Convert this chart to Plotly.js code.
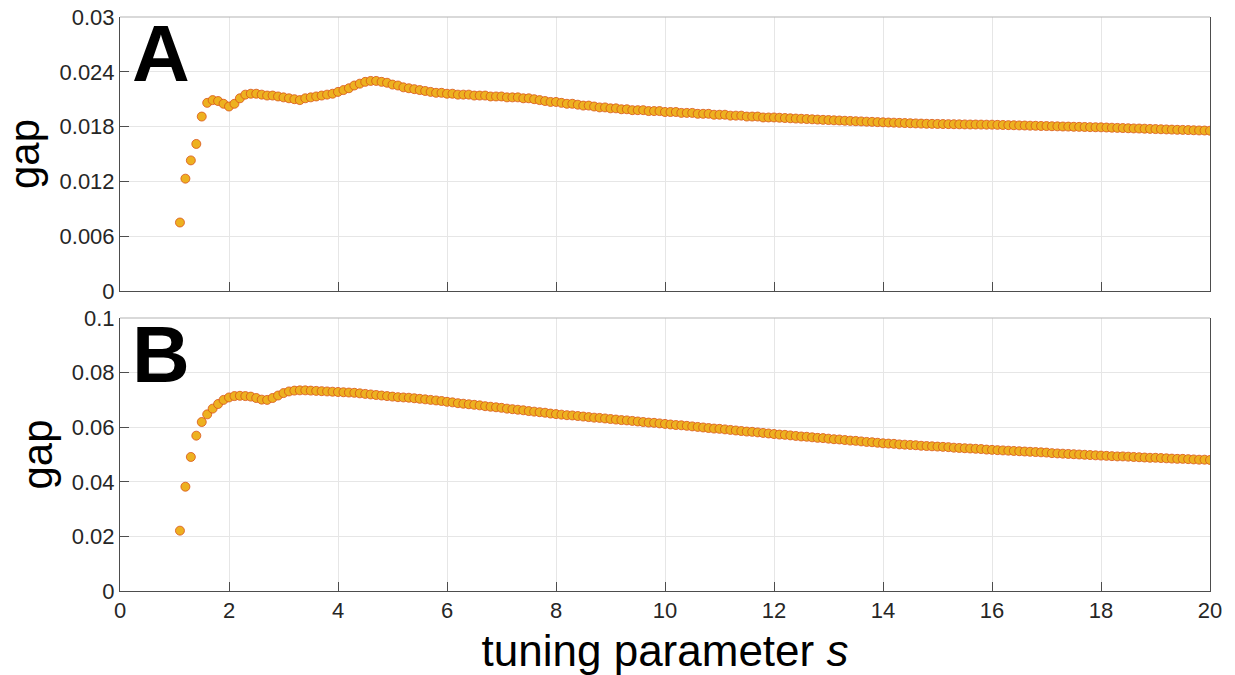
<!DOCTYPE html>
<html>
<head>
<meta charset="utf-8">
<script src="https://cdn.plot.ly/plotly-3.0.1.min.js"></script>
<style>html,body{margin:0;padding:0;background:#fff;}#chart{width:1235px;height:675px;}</style>
</head>
<body>
<div id="chart"></div>
<script>
// tuning parameter s: sampled from 1.1 to 20.0 in steps of 0.1
const sStart = 1.1, sStep = 0.1, sCount = 190;
const sValues = [];
for (let i = 0; i < sCount; i++) sValues.push(Math.round((sStart + i * sStep) * 10) / 10);

// Panel A gap values
const gapA = [
  0.0075, 0.0123, 0.0143, 0.0161, 0.0191, 0.0206, 0.0209, 0.0208, 0.0205, 0.0202,
  0.0205, 0.0211, 0.0215, 0.0216, 0.0216, 0.0215, 0.0214, 0.0214, 0.0213, 0.0212,
  0.0211, 0.0210, 0.0209, 0.0211, 0.0212, 0.0213, 0.0214, 0.0215, 0.0216, 0.0218,
  0.0220, 0.0222, 0.0225, 0.0227, 0.0229, 0.0230, 0.0230, 0.0229, 0.0228, 0.0226,
  0.0225, 0.0223, 0.0222, 0.0221, 0.0220, 0.0219, 0.0218, 0.0217, 0.0217, 0.0216,
  0.0216, 0.0215, 0.0215, 0.0215, 0.0214, 0.0214, 0.0214, 0.0213, 0.0213, 0.0213,
  0.0212, 0.0212, 0.0212, 0.0211, 0.0211, 0.0210, 0.0209, 0.0208, 0.0207, 0.0207,
  0.0206, 0.0205, 0.0205, 0.0204, 0.0203, 0.0203, 0.0202, 0.0201, 0.0201, 0.0200,
  0.0200, 0.0199, 0.0199, 0.0198, 0.0198, 0.0198, 0.0197, 0.0197, 0.0197, 0.0196,
  0.0196, 0.0196, 0.0195, 0.0195, 0.0195, 0.0194, 0.0194, 0.0194, 0.0193, 0.0193,
  0.0193, 0.0192, 0.0192, 0.0192, 0.0191, 0.0191, 0.0191, 0.0190, 0.0190, 0.0190,
  0.01897, 0.01894, 0.01891, 0.01888, 0.01886, 0.01883, 0.01880, 0.01877, 0.01874, 0.01872,
  0.01869, 0.01867, 0.01864, 0.01862, 0.01859, 0.01857, 0.01854, 0.01852, 0.01849, 0.01847,
  0.01845, 0.01843, 0.01841, 0.01839, 0.01837, 0.01835, 0.01833, 0.01831, 0.01830, 0.01829,
  0.01828, 0.01827, 0.01826, 0.01825, 0.01824, 0.01823, 0.01823, 0.01822, 0.01821, 0.01821,
  0.01819, 0.01818, 0.01816, 0.01815, 0.01813, 0.01812, 0.01810, 0.01809, 0.01807, 0.01806,
  0.01804, 0.01803, 0.01801, 0.01800, 0.01798, 0.01797, 0.01796, 0.01794, 0.01793, 0.01792,
  0.01790, 0.01788, 0.01786, 0.01784, 0.01782, 0.01780, 0.01779, 0.01777, 0.01775, 0.01773,
  0.01771, 0.01769, 0.01767, 0.01765, 0.01764, 0.01762, 0.01760, 0.01758, 0.01757, 0.01755
];

// Panel B gap values
const gapB = [
  0.0221, 0.0382, 0.0491, 0.0569, 0.0619, 0.0647, 0.0668, 0.0685, 0.0700, 0.0709,
  0.0714, 0.0715, 0.0714, 0.0712, 0.0707, 0.0701, 0.0700, 0.0707, 0.0716, 0.0725,
  0.0731, 0.0734, 0.0735, 0.0735, 0.0734, 0.0733, 0.0732, 0.0731, 0.0730, 0.0729,
  0.0728, 0.0727, 0.0726, 0.0724, 0.0722, 0.0720, 0.0718, 0.0716, 0.0714, 0.0712,
  0.0710, 0.0709, 0.0708, 0.0706, 0.0704, 0.0702, 0.0700, 0.0698, 0.0696, 0.0693,
  0.0691, 0.0688, 0.0686, 0.0684, 0.0682, 0.0680, 0.0677, 0.0675, 0.0673, 0.0671,
  0.0668, 0.0666, 0.0664, 0.0662, 0.0659, 0.0657, 0.0655, 0.0653, 0.0650, 0.0648,
  0.0646, 0.0644, 0.0643, 0.0641, 0.0639, 0.0637, 0.0635, 0.0634, 0.0632, 0.0630,
  0.0628, 0.0626, 0.0625, 0.0623, 0.0621, 0.0619, 0.0617, 0.0616, 0.0614, 0.0612,
  0.0610, 0.0608, 0.0607, 0.0605, 0.0603, 0.0601, 0.0599, 0.0597, 0.0595, 0.0594,
  0.0592, 0.0590, 0.0588, 0.0586, 0.0584, 0.0583, 0.0581, 0.0579, 0.0577, 0.0575,
  0.0573, 0.0572, 0.0570, 0.0568, 0.0566, 0.0565, 0.0563, 0.0561, 0.0560, 0.0558,
  0.0556, 0.0555, 0.0553, 0.0551, 0.0550, 0.0548, 0.0546, 0.0545, 0.0543, 0.0541,
  0.0540, 0.0539, 0.0537, 0.0536, 0.0535, 0.0534, 0.0532, 0.0531, 0.0530, 0.0529,
  0.0528, 0.0527, 0.0525, 0.0524, 0.0523, 0.0522, 0.0521, 0.0520, 0.0518, 0.0517,
  0.0516, 0.0515, 0.0514, 0.0513, 0.0512, 0.0511, 0.0510, 0.0509, 0.0508, 0.0507,
  0.0505, 0.0504, 0.0503, 0.0502, 0.0501, 0.0500, 0.0499, 0.0498, 0.0497, 0.0496,
  0.0495, 0.0494, 0.0493, 0.0493, 0.0492, 0.0491, 0.0490, 0.0489, 0.0488, 0.0488,
  0.0487, 0.0486, 0.0485, 0.0484, 0.0484, 0.0483, 0.0482, 0.0481, 0.0481, 0.0480
];

const panelLabels = ["A", "B"];
const yTitle = "gap";
const xTitle = "tuning parameter <i>s</i>";

const marker = {size: 9, color: "#EDB120", line: {color: "#D95319", width: 0.8}};
const traces = [
  {x: sValues, y: gapA, type: "scatter", mode: "markers", marker: marker, xaxis: "x", yaxis: "y", hoverinfo: "x+y"},
  {x: sValues, y: gapB, type: "scatter", mode: "markers", marker: marker, xaxis: "x2", yaxis: "y2", hoverinfo: "x+y"}
];

const font = "Arial, 'Liberation Sans', Helvetica, sans-serif";
const axisCommon = {
  showgrid: true, gridcolor: "#e6e6e6", gridwidth: 1, zeroline: false,
  showline: true, linecolor: "#4d4d4d", linewidth: 1,
  ticks: "inside", ticklen: 9, tickcolor: "#4d4d4d", tickwidth: 1,
  tickfont: {family: font, size: 22, color: "#262626"}
};

const H = 675, mt = 17, mb = 84, ph = H - mt - mb;
const dom = (top, bot) => [(H - mb - bot) / ph, (H - mb - top) / ph];

const layout = {
  width: 1235, height: 675,
  margin: {l: 120, r: 25, t: mt, b: mb},
  paper_bgcolor: "#ffffff", plot_bgcolor: "#ffffff",
  showlegend: false,
  font: {family: font, color: "#262626"},
  xaxis: Object.assign({}, axisCommon, {range: [0, 20], dtick: 2, tick0: 0, showticklabels: false, anchor: "y", mirror: false}),
  yaxis: Object.assign({}, axisCommon, {range: [0, 0.03], dtick: 0.006, tick0: 0, domain: dom(17, 291), anchor: "x", mirror: true,
    title: {text: yTitle, font: {family: font, size: 42, color: "#000"}, standoff: 6}}),
  xaxis2: Object.assign({}, axisCommon, {range: [0, 20], dtick: 2, tick0: 0, anchor: "y2", mirror: false,
    title: {text: xTitle, font: {family: font, size: 44, color: "#000"}, standoff: 12}}),
  yaxis2: Object.assign({}, axisCommon, {range: [0, 0.1], dtick: 0.02, tick0: 0, domain: dom(318, 591), anchor: "x2", mirror: true,
    title: {text: yTitle, font: {family: font, size: 42, color: "#000"}, standoff: 6}}),
  shapes: [
    {type: "line", xref: "x domain", yref: "y domain", x0: 0, x1: 1, y0: 1, y1: 1, line: {color: "#b3b3b3", width: 1}},
    {type: "line", xref: "x2 domain", yref: "y2 domain", x0: 0, x1: 1, y0: 1, y1: 1, line: {color: "#b3b3b3", width: 1}}
  ],
  annotations: [
    {text: "<b>" + panelLabels[0] + "</b>", xref: "x domain", yref: "y domain", x: 0.009, y: 0.865, xanchor: "left", yanchor: "middle",
     showarrow: false, font: {family: font, size: 80, color: "#000"}},
    {text: "<b>" + panelLabels[1] + "</b>", xref: "x2 domain", yref: "y2 domain", x: 0.009, y: 0.865, xanchor: "left", yanchor: "middle",
     showarrow: false, font: {family: font, size: 80, color: "#000"}}
  ]
};

Plotly.newPlot("chart", traces, layout, {displayModeBar: false, responsive: false});
</script>
</body>
</html>
